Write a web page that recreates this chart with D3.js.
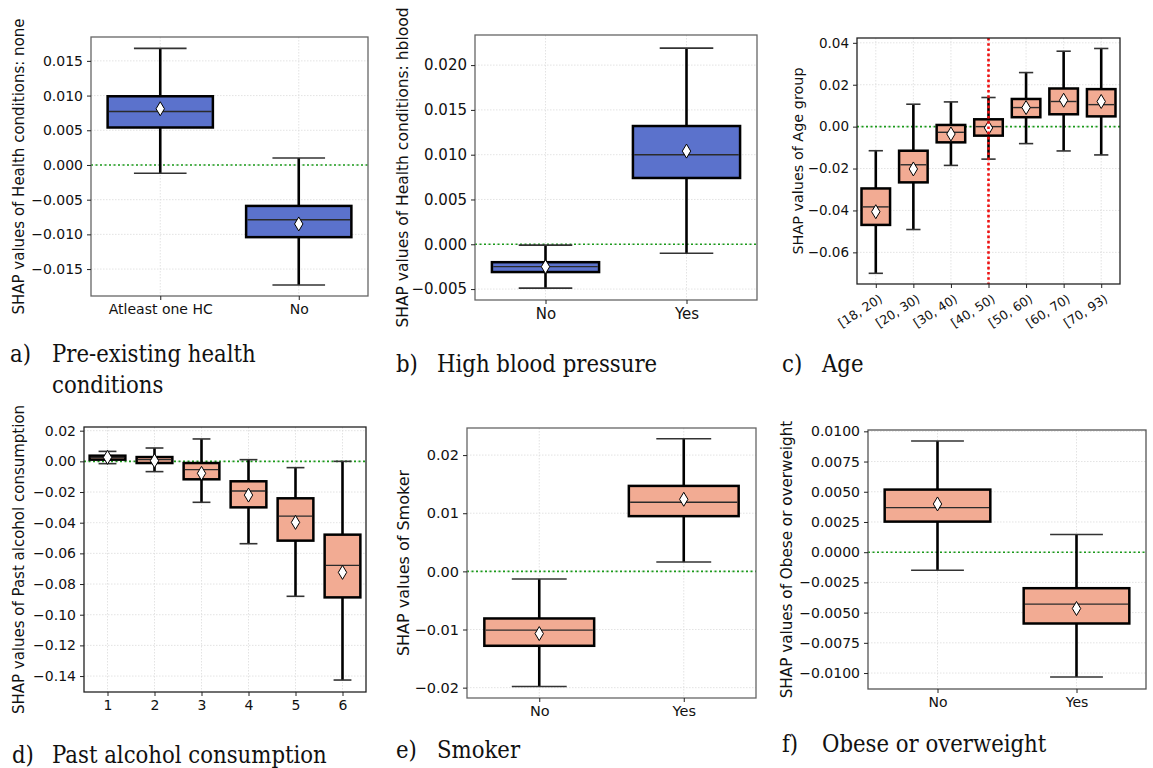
<!DOCTYPE html>
<html>
<head>
<meta charset="utf-8">
<script src="https://cdn.jsdelivr.net/npm/d3@7"></script>
<style>
  html, body { margin: 0; padding: 0; background: #fff; }
  svg { display: block; }
</style>
</head>
<body>
<svg id="fig" width="1153" height="768"></svg>
<script>
// Box statistics per category: [whiskerLow, q1, median, q3, whiskerHigh, mean]

// a) Pre-existing health conditions
const hcLabels = ["Atleast one HC", "No"];
const hcStats = [
  [-0.0012, 0.0054, 0.0077, 0.0099, 0.0168, 0.0081],
  [-0.0173, -0.0104, -0.0079, -0.0059, 0.0010, -0.0085]
];
const hcTicks = [-0.015, -0.010, -0.005, 0.000, 0.005, 0.010, 0.015];

// b) High blood pressure
const hbLabels = ["No", "Yes"];
const hbStats = [
  [-0.0049, -0.0031, -0.0025, -0.0020, -0.0001, -0.0025],
  [-0.0010, 0.0074, 0.0100, 0.0132, 0.0219, 0.0104]
];
const hbTicks = [-0.005, 0.000, 0.005, 0.010, 0.015, 0.020];

// c) Age group
const ageLabels = ["[18, 20)", "[20, 30)", "[30, 40)", "[40, 50)", "[50, 60)", "[60, 70)", "[70, 93)"];
const ageStats = [
  [-0.0700, -0.0469, -0.0383, -0.0295, -0.0115, -0.0406],
  [-0.0491, -0.0266, -0.0182, -0.0115, 0.0107, -0.0202],
  [-0.0185, -0.0075, -0.0027, 0.0008, 0.0118, -0.0035],
  [-0.0155, -0.0043, 0.0000, 0.0035, 0.0139, -0.0006],
  [-0.0081, 0.0045, 0.0091, 0.0132, 0.0258, 0.0091],
  [-0.0116, 0.0059, 0.0120, 0.0182, 0.0360, 0.0126],
  [-0.0135, 0.0049, 0.0105, 0.0179, 0.0373, 0.0120]
];
const ageTicks = [-0.06, -0.04, -0.02, 0.00, 0.02, 0.04];
const ageMarker = "[40, 50)";

// d) Past alcohol consumption
const alcLabels = ["1", "2", "3", "4", "5", "6"];
const alcStats = [
  [-0.0015, 0.0011, 0.0024, 0.0037, 0.0065, 0.0026],
  [-0.0067, -0.0011, 0.0011, 0.0028, 0.0087, 0.0004],
  [-0.0267, -0.0117, -0.0054, -0.0011, 0.0146, -0.0078],
  [-0.0537, -0.0300, -0.0193, -0.0130, 0.0011, -0.0220],
  [-0.0880, -0.0517, -0.0357, -0.0241, -0.0041, -0.0398],
  [-0.1426, -0.0887, -0.0678, -0.0478, 0.0000, -0.0724]
];
const alcTicks = [-0.14, -0.12, -0.10, -0.08, -0.06, -0.04, -0.02, 0.00, 0.02];

// e) Smoker
const smkLabels = ["No", "Yes"];
const smkStats = [
  [-0.0198, -0.0128, -0.0101, -0.0081, -0.0013, -0.0107],
  [0.0016, 0.0095, 0.0119, 0.0147, 0.0228, 0.0124]
];
const smkTicks = [-0.02, -0.01, 0.00, 0.01, 0.02];

// f) Obese or overweight
const obLabels = ["No", "Yes"];
const obStats = [
  [-0.00149, 0.00253, 0.00369, 0.00518, 0.00920, 0.00399],
  [-0.01033, -0.00590, -0.00430, -0.00298, 0.00146, -0.00466]
];
const obTicks = [-0.0100, -0.0075, -0.0050, -0.0025, 0.0000, 0.0025, 0.0050, 0.0075, 0.0100];

const BLUE = "#5b72cc";
const SALMON = "#f2ab93";

const svg = d3.select("#fig");

const panels = [
  { labels: hcLabels, stats: hcStats, ticks: hcTicks, fmt: ".3f", domain: [-0.01888, 0.01844],
    left: 91, right: 368, top: 37, bottom: 296, fill: BLUE, frame: "#666",
    ylabel: "SHAP values of Health conditions: none", ylx: 19, tickFont: 14, labelFont: 15 },
  { labels: hbLabels, stats: hbStats, ticks: hbTicks, fmt: ".3f", domain: [-0.00622, 0.02336],
    left: 475, right: 757, top: 35, bottom: 300, fill: BLUE, frame: "#666",
    ylabel: "SHAP values of Health conditions: hblood", ylx: 403, tickFont: 15, labelFont: 15.5 },
  { labels: ageLabels, stats: ageStats, ticks: ageTicks, fmt: ".2f", domain: [-0.0751, 0.0423],
    left: 857, right: 1120, top: 38, bottom: 284, fill: SALMON, frame: "#222",
    ylabel: "SHAP values of Age group", ylx: 798, tickFont: 13.5, labelFont: 14.4,
    rotated: true, marker: ageMarker },
  { labels: alcLabels, stats: alcStats, ticks: alcTicks, fmt: ".2f", domain: [-0.1504, 0.0224],
    left: 84, right: 366, top: 427, bottom: 692, fill: SALMON, frame: "#222",
    ylabel: "SHAP values of Past alcohol consumption", ylx: 19, tickFont: 14, labelFont: 15 },
  { labels: smkLabels, stats: smkStats, ticks: smkTicks, fmt: ".2f", domain: [-0.02178, 0.02466],
    left: 467, right: 756, top: 428, bottom: 698, fill: SALMON, frame: "#666",
    ylabel: "SHAP values of Smoker", ylx: 403, tickFont: 14.5, labelFont: 16 },
  { labels: obLabels, stats: obStats, ticks: obTicks, fmt: ".4f", domain: [-0.01132, 0.01011],
    left: 868, right: 1146, top: 430, bottom: 689, fill: SALMON, frame: "#555",
    ylabel: "SHAP values of Obese or overweight", ylx: 787, tickFont: 14, labelFont: 15.2 }
];

const SANS = "DejaVu Sans, sans-serif";
const SERIF = "DejaVu Serif, serif";

function drawPanel(p) {
  const g = svg.append("g");
  const y = d3.scaleLinear().domain(p.domain).range([p.bottom, p.top]);
  const x = d3.scalePoint().domain(p.labels).range([p.left, p.right]).padding(0.5);
  const bw = x.step() * 0.76;
  const fmt = d3.format(p.fmt);

  // light dotted grid
  const grid = g.append("g").attr("stroke", "#dcdcdc").attr("stroke-width", 0.8)
    .attr("stroke-dasharray", "1.5,1.5");
  grid.selectAll("line.gy").data(p.ticks).join("line")
    .attr("x1", p.left).attr("x2", p.right)
    .attr("y1", d => y(d)).attr("y2", d => y(d));
  grid.selectAll("line.gx").data(p.labels).join("line")
    .attr("y1", p.top).attr("y2", p.bottom)
    .attr("x1", d => x(d)).attr("x2", d => x(d));

  // zero reference line
  g.append("line")
    .attr("x1", p.left).attr("x2", p.right)
    .attr("y1", y(0)).attr("y2", y(0))
    .attr("stroke", "#1a9a1a").attr("stroke-width", 1.6)
    .attr("stroke-dasharray", "2,2.5");

  const rows = p.labels.map((c, i) => ({ c, s: p.stats[i] }));
  const box = g.selectAll("g.box").data(rows).join("g").attr("class", "box");

  // whiskers
  box.append("line")
    .attr("x1", d => x(d.c)).attr("x2", d => x(d.c))
    .attr("y1", d => y(d.s[4])).attr("y2", d => y(d.s[3]))
    .attr("stroke", "#000").attr("stroke-width", 2.6);
  box.append("line")
    .attr("x1", d => x(d.c)).attr("x2", d => x(d.c))
    .attr("y1", d => y(d.s[1])).attr("y2", d => y(d.s[0]))
    .attr("stroke", "#000").attr("stroke-width", 2.6);
  // caps
  [0, 4].forEach(k => {
    box.append("line")
      .attr("x1", d => x(d.c) - bw / 4).attr("x2", d => x(d.c) + bw / 4)
      .attr("y1", d => y(d.s[k])).attr("y2", d => y(d.s[k]))
      .attr("stroke", "#333").attr("stroke-width", 1.6);
  });
  // interquartile box
  box.append("rect")
    .attr("x", d => x(d.c) - bw / 2).attr("width", bw)
    .attr("y", d => y(d.s[3])).attr("height", d => y(d.s[1]) - y(d.s[3]))
    .attr("fill", p.fill).attr("stroke", "#000").attr("stroke-width", 2.5);
  // median
  box.append("line")
    .attr("x1", d => x(d.c) - bw / 2 + 1.3).attr("x2", d => x(d.c) + bw / 2 - 1.3)
    .attr("y1", d => y(d.s[2])).attr("y2", d => y(d.s[2]))
    .attr("stroke", "#2b2b2b").attr("stroke-width", 1.4);

  // vertical marker line
  if (p.marker) {
    g.append("line")
      .attr("x1", x(p.marker)).attr("x2", x(p.marker))
      .attr("y1", p.top).attr("y2", p.bottom)
      .attr("stroke", "#ee1111").attr("stroke-width", 2.6)
      .attr("stroke-dasharray", "2.6,2.6");
  }

  // mean diamonds
  const dw = 4.2, dh = 7;
  box.append("path")
    .attr("d", d => {
      const cx = x(d.c), cy = y(d.s[5]);
      return `M${cx},${cy - dh}L${cx + dw},${cy}L${cx},${cy + dh}L${cx - dw},${cy}Z`;
    })
    .attr("fill", "#fff").attr("stroke", "#000").attr("stroke-width", 1);

  // frame
  g.append("rect")
    .attr("x", p.left).attr("y", p.top)
    .attr("width", p.right - p.left).attr("height", p.bottom - p.top)
    .attr("fill", "none").attr("stroke", p.frame).attr("stroke-width", 1.3);

  // y axis
  const ya = g.append("g").attr("transform", `translate(${p.left},0)`)
    .call(d3.axisLeft(y).tickValues(p.ticks).tickFormat(fmt).tickSize(4).tickPadding(4));
  ya.select(".domain").remove();
  ya.selectAll(".tick line").attr("stroke", "#222");
  ya.selectAll(".tick text").attr("fill", "#111")
    .attr("font-family", SANS).attr("font-size", p.tickFont);

  // x axis
  const xa = g.append("g").attr("transform", `translate(0,${p.bottom})`)
    .call(d3.axisBottom(x).tickSize(4).tickPadding(4));
  xa.select(".domain").remove();
  xa.selectAll(".tick line").attr("stroke", "#222");
  const xt = xa.selectAll(".tick text").attr("fill", "#111")
    .attr("font-family", SANS).attr("font-size", p.rotated ? 12.5 : p.tickFont);
  if (p.rotated) {
    xt.attr("text-anchor", "end").attr("y", 0).attr("dy", 0)
      .attr("transform", "translate(7,17) rotate(-33)");
  }

  // y label
  g.append("text")
    .attr("transform", `translate(${p.ylx},${(p.top + p.bottom) / 2}) rotate(-90)`)
    .attr("text-anchor", "middle").attr("dominant-baseline", "central")
    .attr("font-family", SANS).attr("font-size", p.labelFont)
    .attr("fill", "#111")
    .text(p.ylabel);
}

panels.forEach(drawPanel);

// sub-figure captions (serif, slightly condensed)
const captions = [
  { tag: "a)", lines: ["Pre-existing health", "conditions"], x0: 10, x1: 52, y: 362 },
  { tag: "b)", lines: ["High blood pressure"], x0: 396, x1: 437, y: 372 },
  { tag: "c)", lines: ["Age"], x0: 782, x1: 822, y: 372 },
  { tag: "d)", lines: ["Past alcohol consumption"], x0: 12, x1: 52, y: 763 },
  { tag: "e)", lines: ["Smoker"], x0: 396, x1: 437, y: 758 },
  { tag: "f)", lines: ["Obese or overweight"], x0: 782, x1: 822, y: 752 }
];
const cap = svg.append("g").attr("fill", "#111");
function capText(x, y, t) {
  cap.append("text")
    .attr("font-family", SERIF).attr("font-size", 25)
    .attr("transform", `translate(${x},${y}) scale(0.85,1)`)
    .text(t);
}
captions.forEach(c => {
  capText(c.x0, c.y, c.tag);
  c.lines.forEach((t, i) => capText(c.x1, c.y + i * 31, t));
});
</script>
</body>
</html>
